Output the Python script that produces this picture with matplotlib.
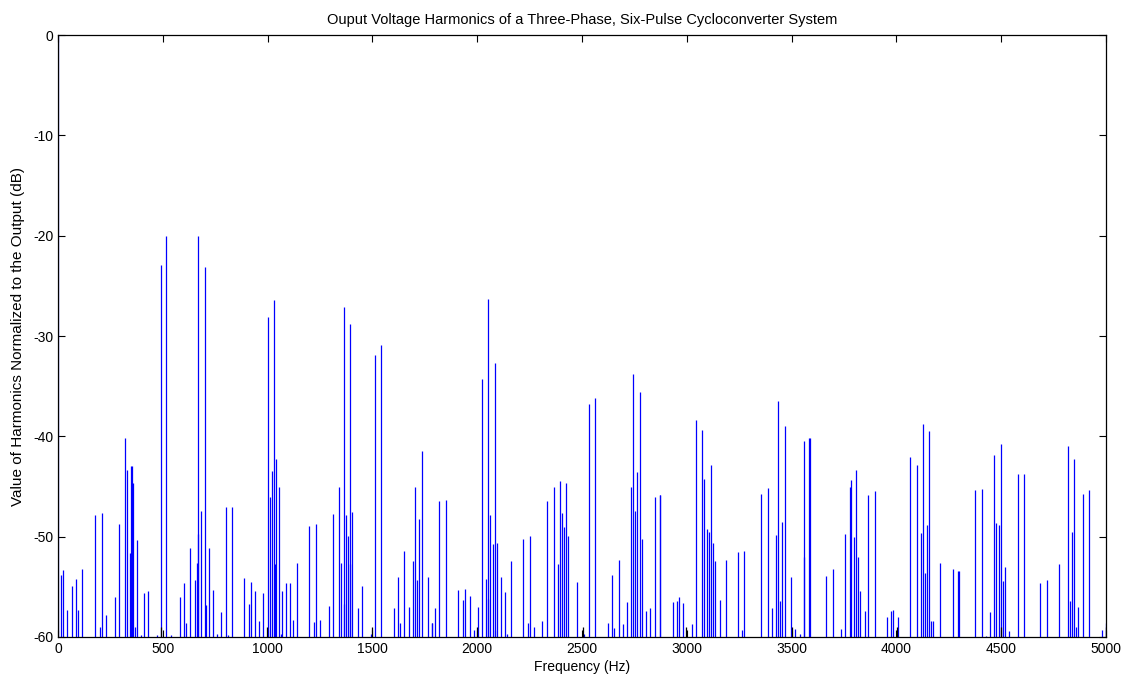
import matplotlib
matplotlib.use("Agg")
import matplotlib.pyplot as plt

# harmonic frequencies (Hz) and levels (dB)
freqs = [0, 16, 26, 45, 67, 86, 97, 116, 178, 198, 209, 229, 271, 290, 320, 331,
         341, 350, 353, 357, 368, 376, 396, 408, 427, 470, 489, 517, 541, 581,
         600, 611, 630, 651, 661, 667, 670, 684, 700, 705, 718, 737, 756, 778,
         799, 810, 829, 888, 910, 920, 940, 961, 980, 1002, 1012, 1021, 1031,
         1033, 1042, 1052, 1062, 1068, 1088, 1107, 1119, 1138, 1198, 1219, 1229,
         1250, 1291, 1311, 1341, 1352, 1362, 1364, 1372, 1381, 1391, 1393, 1402,
         1431, 1450, 1491, 1510, 1539, 1601, 1620, 1631, 1652, 1672, 1692, 1701,
         1712, 1722, 1734, 1763, 1782, 1785, 1798, 1819, 1849, 1909, 1931, 1942,
         1963, 1984, 2002, 2022, 2044, 2049, 2053, 2063, 2074, 2083, 2085, 2093,
         2115, 2134, 2140, 2162, 2220, 2241, 2250, 2272, 2310, 2331, 2364, 2384,
         2393, 2403, 2412, 2425, 2434, 2475, 2509, 2532, 2560, 2624, 2643, 2653,
         2675, 2695, 2713, 2734, 2743, 2754, 2764, 2775, 2785, 2805, 2826, 2847,
         2870, 2873, 2933, 2953, 2961, 2983, 3025, 3044, 3074, 3084, 3095, 3105,
         3114, 3125, 3135, 3156, 3186, 3242, 3262, 3273, 3353, 3385, 3405, 3424,
         3434, 3445, 3454, 3466, 3496, 3517, 3538, 3557, 3560, 3582, 3585, 3665,
         3696, 3735, 3755, 3776, 3785, 3797, 3806, 3817, 3826, 3848, 3866, 3897,
         3953, 3974, 3985, 4006, 4066, 4096, 4117, 4126, 4136, 4145, 4156, 4166,
         4175, 4209, 4268, 4293, 4296, 4374, 4406, 4427, 4446, 4466, 4477, 4488,
         4497, 4507, 4518, 4538, 4578, 4610, 4686, 4717, 4777, 4817, 4826, 4837,
         4847, 4858, 4867, 4888, 4918, 4979, 5000]
levels = [0, -53.8, -53.3, -57.3, -54.9, -54.2, -57.3, -53.2, -47.8, -59.0, -47.6,
          -57.8, -56.0, -48.7, -40.2, -43.4, -51.6, -43.0, -43.0, -44.7, -59.0,
          -50.3, -59.8, -55.6, -55.4, -59.8, -22.9, -20.0, -59.8, -56.0, -54.6,
          -58.6, -51.1, -54.3, -52.6, -49.7, -20.0, -47.4, -23.1, -56.8, -51.1,
          -55.3, -59.7, -57.5, -47.0, -59.8, -47.0, -54.1, -56.7, -54.5, -55.4,
          -58.4, -55.6, -28.1, -46.0, -43.5, -26.4, -52.7, -42.3, -45.0, -59.7,
          -55.4, -54.6, -54.6, -58.3, -52.6, -48.9, -58.5, -48.7, -58.3, -56.9,
          -47.7, -45.0, -52.6, -27.1, -56.7, -47.8, -49.9, -28.8, -52.7, -47.5,
          -57.1, -54.9, -59.7, -31.9, -30.9, -57.1, -54.0, -58.6, -51.4, -57.0,
          -52.4, -45.0, -54.3, -48.2, -41.5, -54.0, -58.6, -58.6, -57.1, -46.4,
          -46.3, -55.3, -56.3, -55.2, -55.9, -59.3, -57.0, -34.3, -54.2, -56.2,
          -26.3, -47.8, -50.7, -32.7, -59.3, -50.6, -54.0, -55.5, -59.7, -52.4,
          -50.2, -58.6, -49.9, -59.0, -58.4, -46.4, -45.0, -52.7, -44.5, -47.6,
          -49.0, -44.7, -49.9, -54.5, -59.7, -36.8, -36.2, -58.6, -53.8, -59.1,
          -52.3, -58.7, -56.5, -45.0, -33.8, -47.4, -43.6, -35.6, -50.2, -57.4,
          -57.1, -46.0, -45.8, -45.8, -56.5, -56.4, -56.0, -56.6, -58.7, -38.4,
          -39.4, -44.3, -49.2, -49.5, -42.9, -50.6, -52.4, -56.3, -52.3, -51.5,
          -59.3, -51.4, -45.7, -45.1, -57.1, -49.8, -36.5, -56.4, -48.5, -39.0,
          -54.0, -59.2, -59.7, -40.5, -52.0, -40.2, -40.2, -53.9, -53.2, -59.2,
          -49.7, -45.0, -44.4, -50.0, -43.4, -52.0, -55.4, -57.4, -45.8, -45.4,
          -58.0, -57.4, -57.3, -58.0, -42.1, -42.9, -49.6, -38.8, -53.6, -48.8,
          -39.5, -58.4, -58.4, -52.6, -53.2, -53.4, -53.4, -45.3, -45.2, -59.9,
          -57.5, -41.9, -48.6, -48.8, -40.8, -54.4, -53.0, -59.4, -43.8, -43.8,
          -54.6, -54.3, -52.7, -41.0, -56.4, -49.5, -42.3, -59.0, -57.0, -45.7,
          -45.3, -59.3, -58.6]

# small black stems near the floor
black_freqs = [490, 996, 1496, 1998, 2503, 2998, 3502, 4001, 4500, 5000]
black_levels = [-59.0, -59.0, -59.0, -59.0, -59.0, -59.0, -59.0, -59.0, -59.0, -59.0]

xticks = list(range(0, 5001, 500))
yticks = list(range(-60, 1, 10))

plt.rcParams['font.family'] = ['Liberation Sans', 'DejaVu Sans']
plt.rcParams['axes.unicode_minus'] = False

fig = plt.figure(figsize=(11.25, 6.75), dpi=100)
ax = fig.add_axes([0.0516, 0.0563, 0.9316, 0.8918])

floor = -60
ax.vlines(freqs, floor, levels, colors='#0000ff', linewidth=0.9)
ax.vlines(black_freqs, floor, black_levels, colors='black', linewidth=0.9)

ax.set_xlim(0, 5000)
ax.set_ylim(-60, 0)
ax.set_xticks(xticks)
ax.set_yticks(yticks)
ax.tick_params(direction='in', top=True, right=True, labelsize=10, length=5, width=0.8)
for s in ax.spines.values():
    s.set_linewidth(0.9)

ax.set_title("Ouput Voltage Harmonics of a Three-Phase, Six-Pulse Cycloconverter System",
             fontsize=10.5, pad=8)
ax.set_xlabel("Frequency (Hz)", fontsize=10, labelpad=3)
ax.set_ylabel("Value of Harmonics Normalized to the Output (dB)", fontsize=11, labelpad=6)

fig.savefig("out.png", dpi=100)
